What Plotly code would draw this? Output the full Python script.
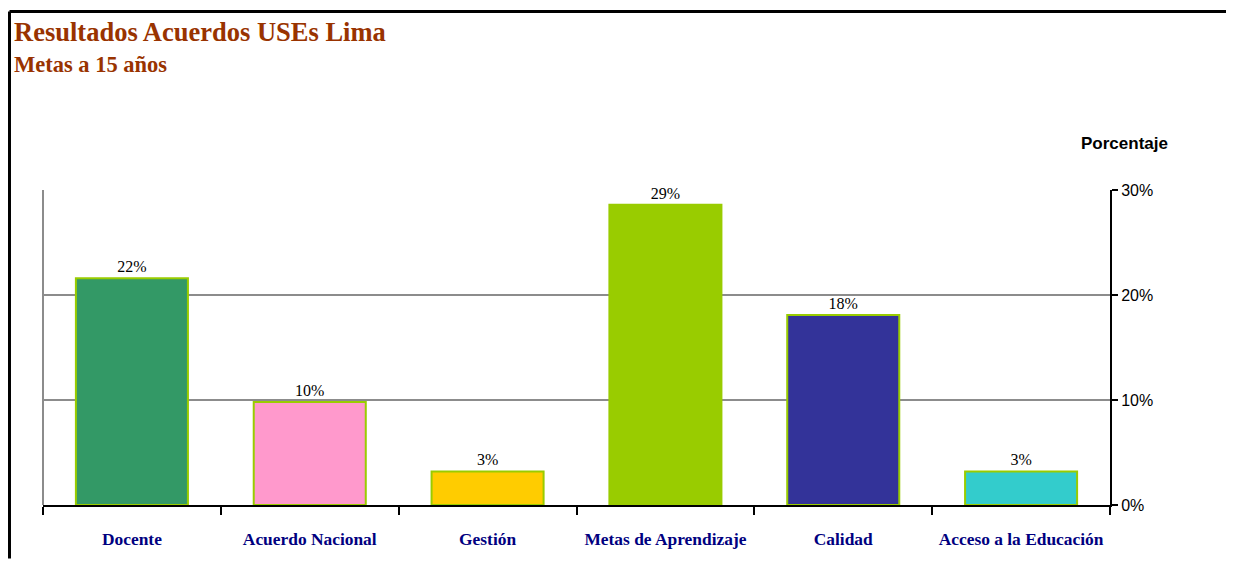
import plotly.graph_objects as go

categorias = ["Docente", "Acuerdo Nacional", "Gestión", "Metas de Aprendizaje", "Calidad", "Acceso a la Educación"]
porcentajes = [21.6, 9.8, 3.2, 28.6, 18.1, 3.2]
colores = ["#339966", "#FF99CC", "#FFCC00", "#99CC00", "#333399", "#33CCCC"]
ticks_y = [0, 10, 20, 30]

fig = go.Figure()
fig.add_trace(go.Bar(
    x=categorias, y=porcentajes,
    marker=dict(color=colores, line=dict(color="#99CC00", width=2)),
    texttemplate="%{y:.0f}%", textposition="outside", cliponaxis=False,
    textfont=dict(family="Liberation Serif", size=16, color="black"),
))

# la pagina deja 8px de margen, se compensa aqui
fig.update_layout(
    width=1226, height=553,
    margin=dict(l=35, r=124, t=182, b=53),
    plot_bgcolor="white", paper_bgcolor="white",
    bargap=0.37, showlegend=False,
    xaxis=dict(
        showline=True, linecolor="black", linewidth=2,
        ticks="outside", tickson="boundaries", ticklen=8, tickwidth=2, tickcolor="black",
        ticklabelstandoff=17,
        tickfont=dict(family="Liberation Serif", size=17.4, color="#000080", weight="bold"),
    ),
    yaxis=dict(
        side="right", range=[0, 30], tickvals=ticks_y,
        ticktext=[f"{v}%" for v in ticks_y],
        showgrid=True, gridcolor="#8C8C8C", gridwidth=2,
        showline=True, linecolor="black", linewidth=2,
        ticks="outside", ticklen=6, tickwidth=2, tickcolor="black",
        tickfont=dict(family="Liberation Sans", size=16, color="black"),
        zeroline=False,
    ),
    annotations=[
        dict(text="<b>Resultados Acuerdos USEs Lima</b>", xref="paper", yref="paper",
             x=-0.029, y=1.503, xanchor="left", yanchor="middle", showarrow=False,
             font=dict(family="Liberation Serif", size=26.5, color="#993300")),
        dict(text="<b>Metas a 15 años</b>", xref="paper", yref="paper",
             x=-0.029, y=1.399, xanchor="left", yanchor="middle", showarrow=False,
             font=dict(family="Liberation Serif", size=22.5, color="#993300")),
        dict(text="<b>Porcentaje</b>", xref="paper", yref="paper",
             x=1.014, y=1.148, xanchor="center", yanchor="middle", showarrow=False,
             font=dict(family="Liberation Sans", size=17, color="black")),
    ],
    shapes=[
        dict(type="line", xref="paper", yref="paper", x0=0, x1=0, y0=0, y1=1,
             line=dict(color="#8C8C8C", width=2)),
        # borde del recorte: solo izquierda y arriba
        dict(type="line", xref="paper", yref="paper", x0=-0.0314, x1=-0.0314, y0=-0.17, y1=1.567,
             line=dict(color="black", width=3)),
        dict(type="line", xref="paper", yref="paper", x0=-0.0314, x1=1.117, y0=1.567, y1=1.567,
             line=dict(color="black", width=3)),
    ],
)

fig.write_html("out.html")
